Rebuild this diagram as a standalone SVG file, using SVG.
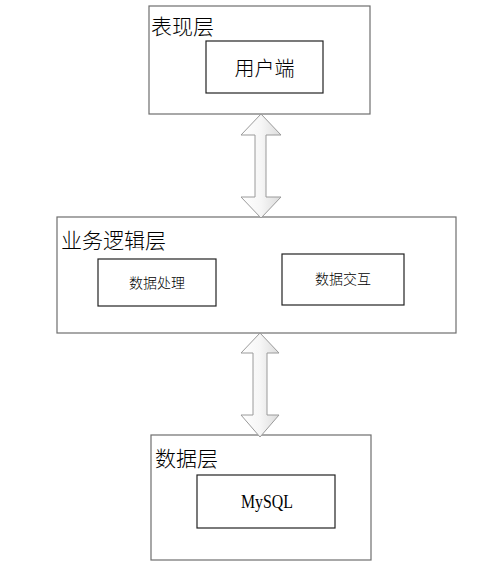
<svg xmlns="http://www.w3.org/2000/svg" width="496" height="570" viewBox="0 0 496 570">
<defs>
<linearGradient id="ag" x1="0" y1="0" x2="1" y2="0">
<stop offset="0" stop-color="#ffffff"/>
<stop offset="0.5" stop-color="#f6f6f6"/>
<stop offset="1" stop-color="#dcdcdc"/>
</linearGradient>
</defs>
<style>
.outer{fill:#fff;stroke:#6e6e6e;stroke-width:1.2}
.inner{fill:#fff;stroke:#222;stroke-width:1.2}
.title{font-family:"Noto Sans CJK SC","Noto Sans",sans-serif;font-size:21px;font-weight:300;fill:#000}
.lbl{font-family:"Noto Sans CJK SC","Noto Sans",sans-serif;font-size:14px;font-weight:300;fill:#000;text-anchor:middle;dominant-baseline:central}
.big{font-size:20px}
.arrow{fill:url(#ag);stroke:#9a9a9a;stroke-width:1}
</style>
<rect width="496" height="570" fill="#fff"/>
<g id="presentation">
<rect class="outer" x="149" y="6" width="221" height="108"/>
<text class="title" x="151" y="34">表现层</text>
<g id="client">
<rect class="inner" x="206" y="41" width="117" height="52"/>
<text class="lbl big" x="264.500" y="67">用户端</text>
</g>
</g>
<g id="business">
<rect class="outer" x="57" y="217" width="399" height="116"/>
<text class="title" x="61" y="248">业务逻辑层</text>
<g id="processing">
<rect class="inner" x="98" y="259" width="118" height="47"/>
<text class="lbl" x="157" y="282">数据处理</text>
</g>
<g id="interaction">
<rect class="inner" x="282" y="254" width="122" height="51"/>
<text class="lbl" x="343" y="278">数据交互</text>
</g>
</g>
<g id="data">
<rect class="outer" x="151" y="435" width="220" height="125"/>
<text class="title" x="155" y="466">数据层</text>
<g id="mysql">
<rect class="inner" x="197" y="475" width="138" height="53"/>
<text x="241" y="508" font-family="Liberation Serif, serif" font-size="19" textLength="52" lengthAdjust="spacingAndGlyphs">MySQL</text>
</g>
</g>
<g id="connectors">
<path class="arrow" d="M261,114 L281,135 L266,135 L266,197 L281,197 L261,218 L241,197 L255,197 L255,135 L241,135 Z"/>
<path class="arrow" d="M260,333 L279,353 L267,353 L267,415 L279,415 L260,437 L241,415 L253,415 L253,353 L241,353 Z"/>
</g>
</svg>
